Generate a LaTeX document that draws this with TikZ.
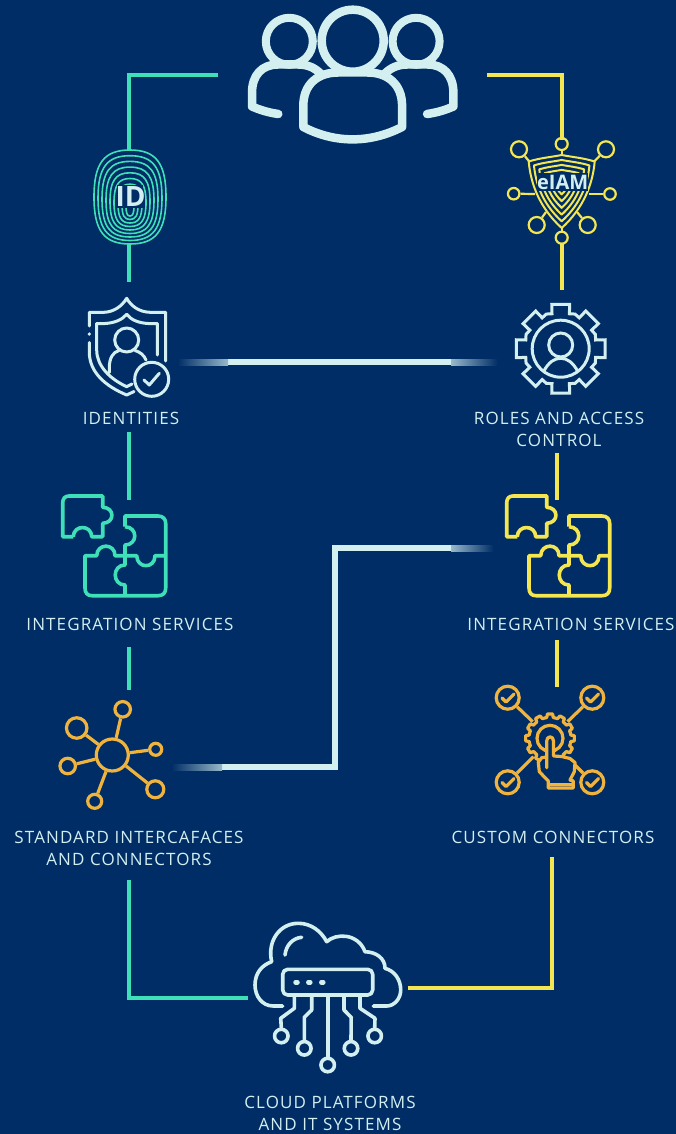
\documentclass[tikz,border=0pt]{standalone}
\usepackage{fontspec}
\setmainfont{Open Sans}
\newfontfamily\labfont[LetterSpace=6.5]{Open Sans}
\definecolor{bg}{HTML}{002D66}
\definecolor{teal}{HTML}{3FE0B8}
\definecolor{yel}{HTML}{F3E650}
\definecolor{pale}{HTML}{D3EFF0}
\definecolor{orng}{HTML}{F0B33E}
\newcommand{\puzzleicon}[2]{%
\begin{scope}[xshift=#1,draw=#2,line width=3.6pt,line join=round,rounded corners=0pt]
\draw (73.3,536.7) -- (62.7,536.7) -- (62.7,503) .. controls (62.7,498.5) and (65,496) .. (69,496) -- (102.7,496) -- (102.7,507.3)
 .. controls (115,507.5) and (115,523) .. (102.7,523.3) -- (102.7,536.7) -- (91.7,536.7) .. controls (91.5,524.5) and (73.5,524.5) .. (73.3,536.7);
\draw (125,526.7) -- (125,516) -- (158,516) .. controls (163,516) and (165.7,519) .. (165.7,523.5) -- (165.7,588) .. controls (165.7,593) and (163,595.7) .. (158,595.7)
 -- (92,595.7) .. controls (87.5,595.7) and (85,593) .. (85,588) -- (85,555.7) -- (96.7,555.7) .. controls (97,543) and (115,543) .. (115,555.7) -- (136.7,555.7)
 .. controls (137,569) and (155,569) .. (155,555.7) -- (165.7,555.7);
\draw (125,526.7) .. controls (138,527) and (138,545) .. (125,545) -- (125,565) .. controls (112,565) and (112,585) .. (125,585) -- (125,595.7);
\end{scope}}
\tikzset{
 conn/.style={line width=4pt,line cap=butt,line join=miter},
 linkfade/.style={line width=6pt,pale,line join=miter},
 ring/.style={circle,draw,inner sep=0pt},
 lab/.style={anchor=base,text=pale,font=\labfont\fontsize{17}{22}\selectfont,align=center,inner sep=0pt},
 iconline/.style={line cap=round,line join=round}
}
\begin{document}
\begin{tikzpicture}[x=1pt,y=-1pt]
\fill[bg] (0,0) rectangle (676,1134);
\useasboundingbox (0,0) rectangle (676,1134);

% connector end points
\coordinate (usersL) at (218,75); \coordinate (cornerTL) at (129,75); \coordinate (idTop) at (129,150);
\coordinate (idBot) at (129,244); \coordinate (shieldTop) at (129,282);
\coordinate (identBot) at (129,432); \coordinate (puzzLTop) at (129,500);
\coordinate (puzzLBot) at (129,647); \coordinate (netTop) at (129,690);
\coordinate (stdBot) at (129,880); \coordinate (cornerBL) at (129,998); \coordinate (cloudL) at (248,998);
\coordinate (usersR) at (487,75); \coordinate (cornerTR) at (562,75); \coordinate (iamTop) at (562,140);
\coordinate (iamBot) at (562,244); \coordinate (gearTop) at (562,290);
\coordinate (rolesBot) at (557,453); \coordinate (puzzRTop) at (557,500);
\coordinate (puzzRBot) at (557,640); \coordinate (custTop) at (557,687);
\coordinate (custBot) at (552,857); \coordinate (cornerBR) at (552,988); \coordinate (cloudR) at (408,988);
\coordinate (identR) at (178,362); \coordinate (rolesL) at (497,362);
\coordinate (netR) at (172,767); \coordinate (elbowA) at (335,767); \coordinate (elbowB) at (335,548); \coordinate (puzzRL) at (493,548);

% connectors
\draw[conn,teal] (usersL) -- (cornerTL) -- (idTop);
\draw[conn,teal] (idBot) -- (shieldTop);
\draw[conn,teal] (identBot) -- (puzzLTop);
\draw[conn,teal] (puzzLBot) -- (netTop);
\draw[conn,teal] (stdBot) -- (cornerBL) -- (cloudL);
\draw[conn,yel] (usersR) -- (cornerTR) -- (iamTop);
\draw[conn,yel] (iamBot) -- (gearTop);
\draw[conn,yel] (rolesBot) -- (puzzRTop);
\draw[conn,yel] (puzzRBot) -- (custTop);
\draw[conn,yel] (custBot) -- (cornerBR) -- (cloudR);
\draw[linkfade] (identR) -- (rolesL);
\draw[linkfade] (netR) -- (elbowA) -- (elbowB) -- (puzzRL);
\foreach \xa/\xb/\ya/\yb/\lc/\rc in {177.5/228/359/365/bg/pale!72!bg, 451/497.5/359/365/pale!72!bg/bg, 171.5/222/764/770/bg/pale!72!bg, 451/493.5/545/551/pale!72!bg/bg}{
 \shade[left color=\lc,right color=\rc] (\xa,\ya) rectangle (\xb,\yb);
}

% users
\begin{scope}[pale,line width=8.5pt,iconline]
\draw (352.7,40.7) circle[radius=31];
\draw[line width=8pt] (289.3,41.3) circle[radius=23.5];
\draw[line width=8pt] (416.1,41.3) circle[radius=23.5];
\draw (303.3,127) -- (303.3,106) .. controls (303.3,84) and (318,72.5) .. (338,72.5) -- (367.4,72.5) .. controls (387.4,72.5) and (402.1,84) .. (402.1,106) -- (402.1,127)
  .. controls (370,143.5) and (335,143.5) .. (303.3,127);
\draw (278.3,114) .. controls (268,112.5) and (260,110) .. (252,106.5) -- (252,93) .. controls (252,75) and (262,64.5) .. (278,64.5) -- (298,64.5) .. controls (308,64.5) and (315,68) .. (321,74);
\draw (427.1,114) .. controls (437.4,112.5) and (445.4,110) .. (453.4,106.5) -- (453.4,93) .. controls (453.4,75) and (443.4,64.5) .. (427.4,64.5) -- (407.4,64.5) .. controls (397.4,64.5) and (390.4,68) .. (384.4,74);
\end{scope}

% fingerprint
\foreach \k in {0,...,8}{
 \pgfmathsetmacro{\w}{36-4*\k}
 \pgfmathsetmacro{\h}{47-4.6*\k}
 \pgfmathsetmacro{\cy}{197+1.1*\k}
 \pgfmathsetmacro{\wk}{\w*0.72}
 \pgfmathsetmacro{\hk}{\h*0.72}
 \draw[teal,line width=1.6pt] (130+\w,\cy) .. controls (130+\w,\cy-\hk) and (130+\wk,\cy-\h) .. (130,\cy-\h)
   .. controls (130-\wk,\cy-\h) and (130-\w,\cy-\hk) .. (130-\w,\cy)
   .. controls (130-\w,\cy+\hk) and (130-\wk,\cy+\h) .. (130,\cy+\h)
   .. controls (130+\wk,\cy+\h) and (130+\w,\cy+\hk) .. (130+\w,\cy);
}
\fill[bg] (117,185) rectangle (143,208);
\node[text=pale,font=\fontsize{28}{28}\selectfont\bfseries,inner sep=0pt] (idmark) at (130.5,196.5) {ID};

% eIAM shield
\foreach \s in {1,0.84,0.68,0.52,0.36,0.2}{
 \begin{scope}[shift={(561.7,186)},scale=\s]
 \draw[yel,line width=2pt,line join=round] (0,-31) .. controls (-10,-29) and (-22,-28) .. (-33,-24.5) .. controls (-31,-2) and (-22,22) .. (0,42) .. controls (22,22) and (31,-2) .. (33,-24.5) .. controls (22,-28) and (10,-29) .. (0,-31) -- cycle;
 \end{scope}
}
\begin{scope}[yel,line width=2.2pt]
\node[ring,minimum size=12pt] (s1) at (561.7,144) {};
\node[ring,minimum size=16pt] (s2) at (519,149.3) {};
\node[ring,minimum size=16pt] (s3) at (606,149.3) {};
\node[ring,minimum size=11.5pt] (s4) at (513.7,193.7) {};
\node[ring,minimum size=11.5pt] (s5) at (610,194) {};
\node[ring,minimum size=16pt] (s6) at (536.7,225) {};
\node[ring,minimum size=16pt] (s7) at (587.7,225) {};
\node[ring,minimum size=12pt] (s8) at (561.7,237.7) {};
\coordinate (p1) at (561.7,155); \coordinate (p2) at (529.5,161.7); \coordinate (p3) at (594,161.7);
\coordinate (p4) at (535,194); \coordinate (p5) at (589,194); \coordinate (p6) at (546,212); \coordinate (p7) at (577,212); \coordinate (p8) at (561.7,228);
\draw (s1) -- (p1); \draw (s2) -- (p2); \draw (s3) -- (p3); \draw (s4) -- (p4); \draw (s5) -- (p5); \draw (s6) -- (p6); \draw (s7) -- (p7); \draw (s8) -- (p8);
\end{scope}
\fill[bg] (537,173) rectangle (588,191);
\node[text=pale,font=\fontsize{20}{20}\selectfont\bfseries,inner sep=0pt] (iammark) at (562.7,182) {eIAM};

% identities shield
\begin{scope}[pale,line width=3pt,iconline]
\draw (89.3,326) -- (89.3,312.3) -- (104,312.3) .. controls (114,312) and (122,306) .. (126.7,298.3) .. controls (131,306) and (139,312) .. (150,312.3) -- (165.7,312.3) -- (165.7,361);
\fill (89.3,334) circle[radius=1.8];
\draw (89.3,342.5) -- (89.3,352) .. controls (89.3,372) and (105,386) .. (126.7,395) -- (134,391.5);
\draw (96.7,323.5) -- (105,323.5) .. controls (114,323) and (122,320) .. (126.7,314.3) .. controls (131,320) and (139,323) .. (148,323.5) -- (157.3,323.5) -- (157.3,355);
\draw (96.7,323.5) -- (96.7,350) .. controls (96.7,366) and (110,379) .. (126.7,386.7) -- (132,384);
\draw (126.7,340) circle[radius=12];
\draw (109.3,372.5) -- (109.3,368) .. controls (109.3,358) and (113,352) .. (119,350.5);
\draw (135,350.5) .. controls (140,352) and (144,355) .. (146,360);
\draw (151.7,379.3) circle[radius=17];
\draw (144,380) -- (149.3,385) -- (159.3,373.3);
\end{scope}

% roles gear
\begin{scope}[shift={(560.7,348.7)},pale,line width=3pt,line join=miter]
\draw (-14:36) \foreach \a in {0,45,...,315}{ -- (\a-14:36) -- (\a-11.4:45.2) -- (\a+11.4:45.2) -- (\a+14:36) -- (\a+22.5:37.5)} -- cycle;
\draw (0,0) circle[radius=28.5];
\draw (0,-3.7) circle[radius=12];
\draw[line cap=butt] (-17.5,23.5) .. controls (-12,13) and (-6,9.6) .. (0,9.6) .. controls (6,9.6) and (12,13) .. (17.5,23.5);
\end{scope}

% puzzles
\puzzleicon{0pt}{teal}
\puzzleicon{444pt}{yel}

% network hub
\begin{scope}[orng,line width=3.2pt]
\node[ring,minimum size=32pt] (hub) at (112.3,755) {};
\node[ring,minimum size=15.5pt] (n1) at (122.7,709.3) {};
\node[ring,minimum size=20.5pt] (n2) at (76.7,728) {};
\node[ring,minimum size=15.5pt] (n3) at (67.7,766) {};
\node[ring,minimum size=12pt] (n4) at (155.7,749.3) {};
\node[ring,minimum size=17pt] (n5) at (155.3,789.3) {};
\node[ring,minimum size=14pt] (n6) at (94.7,801.3) {};
\foreach \n in {n1,n2,n3,n4,n5,n6}{\draw (hub) -- (\n);}
\end{scope}

% custom connectors
\begin{scope}[orng,line width=3.2pt]
\node[ring,minimum size=23pt] (c1) at (507.7,697.7) {};
\node[ring,minimum size=23pt] (c2) at (592.3,697.7) {};
\node[ring,minimum size=23pt] (c3) at (507.7,782.3) {};
\node[ring,minimum size=23pt] (c4) at (592.3,782.3) {};
\coordinate (g1) at (532.7,721.7); \coordinate (g2) at (567.5,721.7); \coordinate (g3) at (533.5,756.7); \coordinate (g4) at (575,765);
\draw (c1) -- (g1); \draw (c2) -- (g2); \draw (c3) -- (g3); \draw (c4) -- (g4);
\draw[iconline] (502,698) -- (506,702) -- (514,694);
\draw[iconline] (586.5,698) -- (590.5,702) -- (598.5,694);
\draw[iconline] (502,782.5) -- (506,786.5) -- (514,778.5);
\draw[iconline] (586.5,782.5) -- (590.5,786.5) -- (598.5,778.5);
\begin{scope}[shift={(550,738.3)}]
\draw[line join=round] (-9:21) \foreach \a in {0,30,...,330}{ -- (\a-9:21) -- (\a-6:24.5) -- (\a+6:24.5) -- (\a+9:21) -- (\a+15:21)} -- cycle;
\draw (0,0) circle[radius=13];
\end{scope}
\draw[fill=bg,iconline] (546.7,767.7) -- (546.7,741) .. controls (546.7,735.5) and (553.5,735.5) .. (553.5,741) -- (553.5,756) -- (561.7,756.5) -- (570,758.5) -- (575,762.5) -- (574.3,771.7) -- (570,780) -- (573.3,781) -- (573.3,788) -- (548.3,788) -- (548.3,781) -- (539.3,771.7) -- (538.3,762.3) -- (541.7,757.7) -- (546.7,757) ;
\draw[line width=2.2pt] (550,784.4) -- (572,784.4);
\end{scope}

% cloud
\begin{scope}[pale,line width=3.6pt,iconline]
\draw (282.7,1006) -- (273.3,1006) .. controls (262,1006) and (255,996) .. (255,985) .. controls (255,973) and (262,965) .. (271.7,961.7)
 .. controls (267,942) and (279,923.3) .. (298.3,923.3) .. controls (311,923.3) and (321,931) .. (326.7,941.7)
 .. controls (336,933) and (358,933) .. (365,951.7) .. controls (376,952) and (385,958) .. (385,968.3)
 .. controls (395,971) and (400.7,980) .. (400.7,990) .. controls (400.7,999) and (394,1006) .. (386.7,1006) -- (373.3,1006);
\draw (285,955) .. controls (286,945) and (293,938) .. (301.7,937.3);
\draw[rounded corners=5pt] (282.7,969.3) rectangle (372.7,995);
\draw[line width=4.5pt] (295.5,982.3) -- (297.5,982.3);
\draw[line width=4.5pt] (308.3,982.3) -- (310.3,982.3);
\draw[line width=4.5pt] (321.3,982.3) -- (323.3,982.3);
\node[ring,minimum size=13.5pt] (t1) at (281.3,1036) {};
\node[ring,minimum size=13.5pt] (t2) at (304.3,1048.3) {};
\node[ring,minimum size=13.5pt] (t3) at (327.7,1065) {};
\node[ring,minimum size=13.5pt] (t4) at (351,1048.3) {};
\node[ring,minimum size=13.5pt] (t5) at (374.7,1036) {};
\draw (294.3,995) -- (294.3,1008.3) -- (280.7,1018.3) -- (t1.north);
\draw (311.7,995) -- (311.7,1010) -- (304.3,1017.3) -- (t2.north);
\draw (327.7,995) -- (t3.north);
\draw (344,995) -- (344,1010) -- (351.2,1017.3) -- (t4.north);
\draw (360,995) -- (360,1008.3) -- (375,1018.3) -- (t5.north);
\end{scope}

% labels
\node[lab] (lidentities) at (131,424) {IDENTITIES};
\node[lab] (lroles) at (559,446) {ROLES AND ACCESS\\CONTROL};
\node[lab] (lintl) at (130,630) {INTEGRATION SERVICES};
\node[lab] (lintr) at (571,630) {INTEGRATION SERVICES};
\node[lab] (lstd) at (129,865) {STANDARD INTERCAFACES\\AND CONNECTORS};
\node[lab] (lcust) at (553,843) {CUSTOM CONNECTORS};
\node[lab] (lcloud) at (330,1130) {CLOUD PLATFORMS\\AND IT SYSTEMS};
\end{tikzpicture}
\end{document}
